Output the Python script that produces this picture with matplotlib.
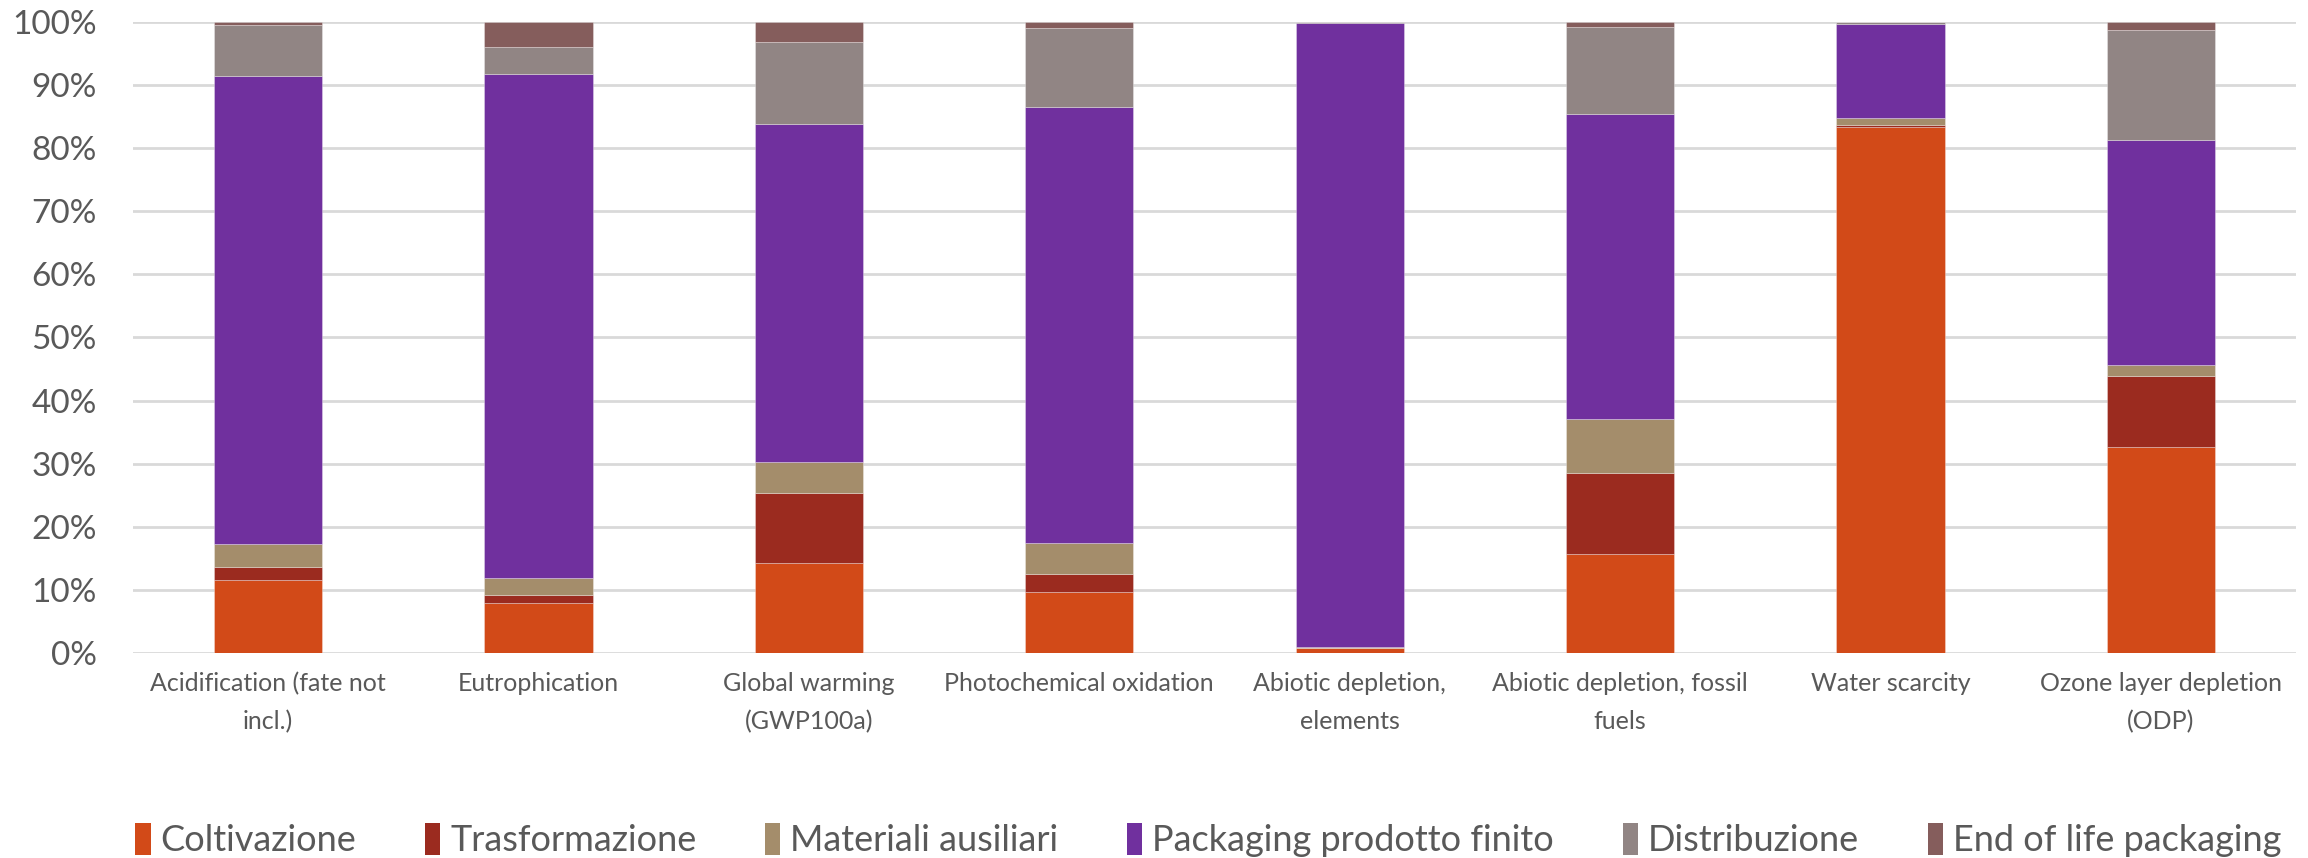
import numpy as np
import matplotlib.pyplot as plt
from matplotlib.patches import Patch
from matplotlib.ticker import PercentFormatter

plt.rcParams['font.family'] = ['Lato', 'DejaVu Sans']

categories = [
    "Acidification (fate not\nincl.)",
    "Eutrophication",
    "Global warming\n(GWP100a)",
    "Photochemical oxidation",
    "Abiotic depletion,\nelements",
    "Abiotic depletion, fossil\nfuels",
    "Water scarcity",
    "Ozone layer depletion\n(ODP)",
]

series_names = [
    "Coltivazione",
    "Trasformazione",
    "Materiali ausiliari",
    "Packaging prodotto finito",
    "Distribuzione",
    "End of life packaging",
]

# percentages
coltivazione   = [11.5,  8.0, 14.2,  9.6,  0.8, 15.7, 83.4, 32.7]
trasformazione = [ 2.2,  1.2, 11.2,  3.0,  0.05, 12.9, 0.3, 11.2]
materiali      = [ 3.5,  2.7,  4.9,  4.8,  0.15,  8.5, 1.1,  1.8]
packaging      = [74.3, 79.9, 53.5, 69.1, 98.8, 48.3, 14.9, 35.6]
distribuzione  = [ 8.0,  4.3, 13.1, 12.5,  0.15, 13.8, 0.3, 17.5]
end_of_life    = [ 0.5,  3.9,  3.1,  1.0,  0.05,  0.8, 0.0,  1.2]

colors = ["#D24A18", "#9B2B1F", "#A48D6B", "#70309E", "#918584", "#855D5C"]
text_color = "#595959"

data = np.array([coltivazione, trasformazione, materiali,
                 packaging, distribuzione, end_of_life])
data = data / data.sum(axis=0) * 100

fig = plt.figure(figsize=(23.08, 8.58), dpi=100)
ax = fig.add_axes([0.0576, 0.2389, 0.9372, 0.7355])

x = np.arange(len(categories))
bottom = np.zeros(len(categories))
for vals, col in zip(data, colors):
    ax.bar(x, vals, 0.4, bottom=bottom, color=col,
           edgecolor=(1, 1, 1, 0.35), linewidth=0.6, zorder=3)
    bottom += vals

ax.set_xlim(-0.5, len(categories) - 0.5)
ax.set_ylim(0, 100)
ax.set_yticks(np.arange(0, 101, 10))
ax.yaxis.set_major_formatter(PercentFormatter(decimals=0))
ax.set_xticks(x)
ax.set_xticklabels(categories, fontsize=18, color=text_color, linespacing=1.75)
ax.tick_params(axis='y', labelsize=24, labelcolor=text_color, length=0, pad=26)
ax.tick_params(axis='x', length=0, pad=14)
ax.grid(axis='y', color="#D9D9D9", linewidth=2, zorder=0)
for s in ax.spines.values():
    s.set_visible(False)

handles = [Patch(facecolor=c, label=n) for c, n in zip(colors, series_names)]
fig.legend(handles=handles, loc='center', bbox_to_anchor=(0.5236, 0.021),
           ncol=6, frameon=False, fontsize=26, labelcolor=text_color,
           handlelength=0.42, handleheight=1.0, handletextpad=0.28,
           columnspacing=1.9)

fig.savefig("out.png", dpi=100)
